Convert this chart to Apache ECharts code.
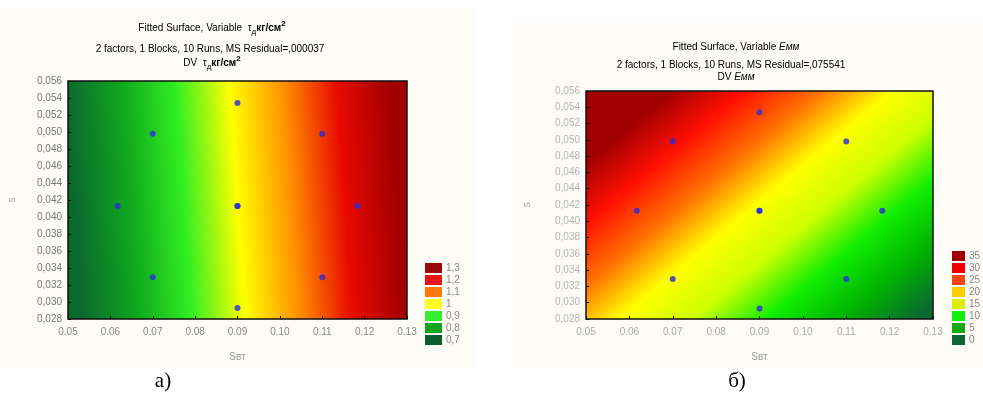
<!DOCTYPE html>
<html>
<head>
<meta charset="utf-8">
<script src="https://cdn.jsdelivr.net/npm/echarts@6/dist/echarts.min.js"></script>
<style>
  html, body { margin: 0; background: #fff; }
  #main { width: 983px; height: 393px; }
</style>
</head>
<body>
<div id="main"></div>
<script>
// plan of the experiment (10 runs, centre point repeated), same for both surfaces
const runX = [0.07, 0.11, 0.0617, 0.09, 0.1183, 0.07, 0.11, 0.09, 0.09, 0.09]
const runY = [0.0498, 0.0498, 0.0413, 0.0413, 0.0413, 0.0329, 0.0329, 0.0534, 0.0293, 0.0413]
const xRange = [0.05, 0.13]
const yRange = [0.028, 0.056]

// fitted surface read at the plot corners: bottom-left, bottom-right, top-left, top-right
const cornersA = [0.67, 1.30, 0.70, 1.33]
const cornersB = [22, -1, 41, 17]

// contour levels shown in the legends
const levelsA = [0.7, 0.8, 0.9, 1, 1.1, 1.2, 1.3]
const labelsA = ['0,7', '0,8', '0,9', '1', '1,1', '1,2', '1,3']
const levelsB = [0, 5, 10, 15, 20, 25, 30, 35]
const labelsB = ['0', '5', '10', '15', '20', '25', '30', '35']

// colours
const legendColorsA = ['#0b5e2a', '#12a524', '#33ee33', '#ffff22', '#ff7711', '#ee1111', '#9b0a0a']
const shadeA = ['#0b6b2e', '#10a81e', '#33ee22', '#ffff00', '#ff9000', '#e80800', '#a00000']
const legendColorsB = ['#0b6630', '#11aa11', '#11ee11', '#ddee00', '#ffcc00', '#ff4411', '#ee0000', '#a00000']
const shadeB = ['#0a6a30', '#00b400', '#11ee00', '#ccff00', '#ffff00', '#ff7000', '#ff1000', '#a00000']

const chart = echarts.init(document.getElementById('main'))

// paints the plot rectangle with a linear shading that follows the plane through the corner readings
function surface(corners, levels, colors) {
  return function(params, api) {
    const x0 = api.value(0), y0 = api.value(1), x1 = api.value(2), y1 = api.value(3)
    const xc = (x0 + x1) / 2, yc = (y0 + y1) / 2
    const vc = (corners[0] + corners[1] + corners[2] + corners[3]) / 4
    const bx = ((corners[1] + corners[3]) - (corners[0] + corners[2])) / 2 / (x1 - x0)
    const by = ((corners[2] + corners[3]) - (corners[0] + corners[1])) / 2 / (y1 - y0)
    const pc = api.coord([xc, yc])
    const dpx = (api.coord([x1, yc])[0] - api.coord([x0, yc])[0]) / (x1 - x0)
    const dpy = (api.coord([xc, y1])[1] - api.coord([xc, y0])[1]) / (y1 - y0)
    const gx = bx / dpx, gy = by / dpy
    const m2 = gx * gx + gy * gy
    const lo = levels[0], hi = levels[levels.length - 1]
    const s = [pc[0] + gx * (lo - vc) / m2, pc[1] + gy * (lo - vc) / m2]
    const e = [pc[0] + gx * (hi - vc) / m2, pc[1] + gy * (hi - vc) / m2]
    const stops = levels.map((l, i) => ({ offset: (l - lo) / (hi - lo), color: colors[i] }))
    const p0 = api.coord([x0, y1])
    const p1 = api.coord([x1, y0])
    return {
      type: 'rect',
      silent: true,
      shape: { x: p0[0], y: p0[1], width: p1[0] - p0[0], height: p1[1] - p0[1] },
      style: {
        fill: new echarts.graphic.LinearGradient(s[0], s[1], e[0], e[1], stops, true),
        stroke: '#111',
        lineWidth: 1.5
      }
    }
  }
}

function xAxisOf(idx, labelColor) {
  return {
    gridIndex: idx,
    type: 'value',
    min: xRange[0],
    max: xRange[1],
    interval: 0.01,
    z: 5,
    name: 'Sвт',
    nameLocation: 'middle',
    nameGap: 33,
    nameTextStyle: { color: '#999', fontSize: 10, fontFamily: 'Liberation Sans' },
    axisLine: { show: false },
    axisTick: { inside: true, length: 3, lineStyle: { color: '#111' } },
    axisLabel: {
      margin: 8,
      color: labelColor,
      fontSize: 10,
      fontFamily: 'Liberation Sans',
      formatter: v => v.toFixed(2)
    },
    splitLine: { show: false }
  }
}

function yAxisOf(idx, labelColor, gap) {
  return {
    gridIndex: idx,
    type: 'value',
    min: yRange[0],
    max: yRange[1],
    interval: 0.002,
    z: 5,
    name: 's',
    nameLocation: 'middle',
    nameGap: gap,
    nameTextStyle: { color: '#aaa', fontSize: 10, fontFamily: 'Liberation Sans' },
    axisLine: { show: false },
    axisTick: { inside: true, length: 3, lineStyle: { color: '#111' } },
    axisLabel: {
      margin: 6,
      color: labelColor,
      fontSize: 10,
      fontFamily: 'Liberation Sans',
      formatter: v => v.toFixed(3).replace('.', ',')
    },
    splitLine: { show: false }
  }
}

function legendOf(levels, labels, colors, left, top, w) {
  return {
    type: 'piecewise',
    seriesIndex: [],
    orient: 'vertical',
    align: 'left',
    left: left,
    top: top,
    padding: 0,
    itemWidth: w,
    itemHeight: 10,
    itemGap: 2,
    textGap: 4,
    itemSymbol: 'rect',
    selectedMode: false,
    hoverLink: false,
    textStyle: { color: '#888', fontSize: 10, fontFamily: 'Liberation Sans' },
    pieces: levels.map((v, i) => ({ value: v, label: labels[i], color: colors[i] }))
  }
}

const points = runX.map((x, i) => [x, runY[i]])
const rich = {
  n: { fontSize: 10, color: '#555', fontFamily: 'Liberation Sans', lineHeight: 16, verticalAlign: 'middle' },
  v: { fontSize: 10, color: '#444', fontFamily: 'Liberation Sans', lineHeight: 16, verticalAlign: 'middle' },
  s: { fontSize: 8, color: '#444', fontFamily: 'Liberation Sans', lineHeight: 16, verticalAlign: 'bottom' },
  b: { fontSize: 10, color: '#333', fontWeight: 'bold', fontFamily: 'Liberation Sans', lineHeight: 16, verticalAlign: 'middle' },
  p: { fontSize: 8, color: '#333', fontWeight: 'bold', fontFamily: 'Liberation Sans', lineHeight: 16, verticalAlign: 'top' },
  i: { fontSize: 10, color: '#555', fontStyle: 'italic', fontFamily: 'Liberation Sans', lineHeight: 16, verticalAlign: 'middle' },
  r: { fontSize: 10, color: '#8a3a3a', fontFamily: 'Liberation Sans', lineHeight: 16, verticalAlign: 'middle' },
  ri: { fontSize: 10, color: '#8a3a3a', fontStyle: 'italic', fontFamily: 'Liberation Sans', lineHeight: 16, verticalAlign: 'middle' }
}

function caption(text, x, y) {
  return {
    type: 'text', x: x, y: y, z: 10,
    style: { text: text, rich: rich, align: 'center', verticalAlign: 'middle' }
  }
}

chart.setOption({
  backgroundColor: '#fff',
  animation: false,
  graphic: [
    { type: 'rect', z: -10, shape: { x: 0, y: 8, width: 476, height: 360 }, style: { fill: '#fcfbf5' } },
    { type: 'rect', z: -10, shape: { x: 512, y: 22, width: 471, height: 346 }, style: { fill: '#fcfbf5' } },
    caption('{n|Fitted Surface, Variable  }{v|τ}{s|д}{b|кг/см}{p|2}', 212, 28),
    caption('{n|2 factors, 1 Blocks, 10 Runs, MS Residual=,000037}', 210, 49),
    caption('{n|DV  }{v|τ}{s|д}{b|кг/см}{p|2}', 212, 63),
    caption('{n|Fitted Surface, Variable }{i|Eмм}', 736, 47),
    caption('{n|2 factors, 1 Blocks, 10 Runs, MS Residual=,075541}', 731, 65),
    caption('{r|DV }{ri|Eмм}', 736, 77),
    {
      type: 'text', x: 163, y: 381, z: 10,
      style: { text: 'а)', align: 'center', verticalAlign: 'middle', fontSize: 21, fontFamily: 'Liberation Serif', fill: '#000' }
    },
    {
      type: 'text', x: 737, y: 381, z: 10,
      style: { text: 'б)', align: 'center', verticalAlign: 'middle', fontSize: 21, fontFamily: 'Liberation Serif', fill: '#000' }
    }
  ],
  grid: [
    { left: 68, top: 81, width: 339, height: 238 },
    { left: 586, top: 91, width: 347, height: 228 }
  ],
  xAxis: [xAxisOf(0, '#888'), xAxisOf(1, '#aaa')],
  yAxis: [yAxisOf(0, '#777', 51), yAxisOf(1, '#b5b5b5', 54)],
  visualMap: [
    legendOf(levelsA, labelsA, legendColorsA, 425, 263, 17),
    legendOf(levelsB, labelsB, legendColorsB, 952, 251, 13)
  ],
  series: [
    {
      type: 'custom',
      xAxisIndex: 0,
      yAxisIndex: 0,
      z: 1,
      silent: true,
      renderItem: surface(cornersA, levelsA, shadeA),
      encode: { x: [0, 2], y: [1, 3] },
      data: [[xRange[0], yRange[0], xRange[1], yRange[1]]]
    },
    {
      type: 'custom',
      xAxisIndex: 1,
      yAxisIndex: 1,
      z: 1,
      silent: true,
      renderItem: surface(cornersB, levelsB, shadeB),
      encode: { x: [0, 2], y: [1, 3] },
      data: [[xRange[0], yRange[0], xRange[1], yRange[1]]]
    },
    {
      type: 'scatter',
      xAxisIndex: 0,
      yAxisIndex: 0,
      z: 6,
      symbolSize: 6,
      itemStyle: { color: '#2a2ae0' },
      data: points
    },
    {
      type: 'scatter',
      xAxisIndex: 1,
      yAxisIndex: 1,
      z: 6,
      symbolSize: 6,
      itemStyle: { color: '#2a2ae0' },
      data: points
    }
  ]
})
</script>
</body>
</html>
